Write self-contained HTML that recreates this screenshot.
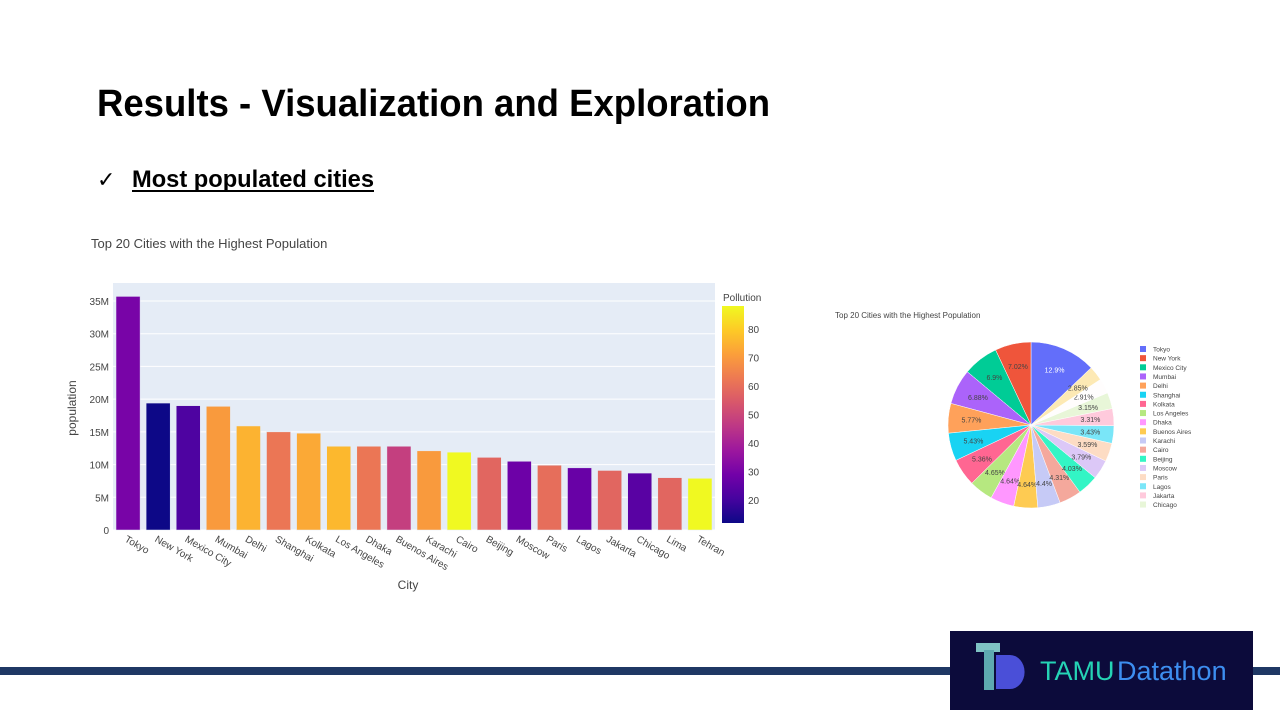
<!DOCTYPE html>
<html><head><meta charset="utf-8"><style>
html,body{margin:0;padding:0;background:#fff;width:1280px;height:720px;overflow:hidden}
svg{display:block;font-family:"Liberation Sans",sans-serif}
</style></head><body>
<svg id="s" width="1280" height="720" viewBox="0 0 1280 720">
<text x="97" y="116" font-size="38" font-weight="bold" textLength="673" lengthAdjust="spacingAndGlyphs" fill="#000">Results - Visualization and Exploration</text>
<text x="97" y="187" font-size="22" fill="#000">✓</text>
<text x="132" y="187" font-size="24" font-weight="bold" textLength="242" lengthAdjust="spacingAndGlyphs" fill="#000">Most populated cities</text>
<rect x="132" y="190" width="242" height="2" fill="#000"/>
<text x="91" y="248" font-size="13" fill="#444">Top 20 Cities with the Highest Population</text>
<rect x="113" y="283" width="602" height="247" fill="#e5ecf6"/>
<g id="grid"></g><g id="bars"></g><g id="xt"></g>
<text transform="translate(76,408) rotate(-90)" font-size="12" fill="#444" text-anchor="middle">population</text>
<text x="408" y="589" font-size="12" fill="#444" text-anchor="middle">City</text>
<text x="723" y="301" font-size="10" fill="#444">Pollution</text>
<defs><linearGradient id="pl" x1="0" y1="1" x2="0" y2="0">
<stop offset="0" stop-color="#0d0887"/><stop offset=".111" stop-color="#46039f"/><stop offset=".222" stop-color="#7201a8"/><stop offset=".333" stop-color="#9c179e"/><stop offset=".444" stop-color="#bd3786"/><stop offset=".556" stop-color="#d8576b"/><stop offset=".667" stop-color="#ed7953"/><stop offset=".778" stop-color="#fb9f3a"/><stop offset=".889" stop-color="#fdca26"/><stop offset="1" stop-color="#f0f921"/></linearGradient></defs>
<rect x="722" y="306" width="22" height="217" fill="url(#pl)"/>
<g id="cb"></g>
<text x="835" y="318" font-size="8" fill="#444">Top 20 Cities with the Highest Population</text>
<g id="pie"></g><g id="leg"></g>
<rect x="0" y="667" width="950" height="8" fill="#1f3864"/>
<rect x="1253" y="667" width="27" height="8" fill="#1f3864"/>
<g>
<rect x="950" y="631" width="303" height="79" fill="#0c0b3b"/>
<rect x="976" y="643" width="24" height="9" fill="#7fc3c4"/><rect x="984" y="650" width="10" height="40" fill="#5ea9b0"/>
<path d="M996 655 h14 a12 14 0 0 1 0 34 h-14 z" fill="#4a4fd8"/>
<text x="1040" y="680" font-size="27" fill="#25d3b5">TAMU</text>
<text x="1117" y="680" font-size="27" fill="#3d8ef0">Datathon</text>
</g>
</svg>
<script>
const cities=["Tokyo","New York","Mexico City","Mumbai","Delhi","Shanghai","Kolkata","Los Angeles","Dhaka","Buenos Aires","Karachi","Cairo","Beijing","Moscow","Paris","Lagos","Jakarta","Chicago","Lima","Tehran"];
const population=[35.7,19.4,19.0,18.9,15.9,15.0,14.8,12.8,12.8,12.8,12.1,11.9,11.1,10.5,9.9,9.5,9.1,8.7,8.0,7.9];
const pollution=[30,12,22,70,75,62,73,76,62,48,70,88,58,28,60,27,58,24,58,88];
const yTicks=[0,5,10,15,20,25,30,35];
const cbTicks=[20,30,40,50,60,70,80];
const piePct=[12.9,7.02,6.9,6.88,5.77,5.43,5.36,4.65,4.64,4.64,4.4,4.31,4.03,3.79,3.59,3.43,3.31,3.15,2.91,2.85];
const pieColors=["#636efa","#ef553b","#00cc96","#ab63fa","#ffa15a","#19d3f3","#ff6692","#b6e880","#ff97ff","#fecb52","#c6caf6","#f4a89c","#33f5c5","#dcc8f7","#fddcc4","#7ae6f8","#ffcadc","#e8f6d8","#fffdfd","#fde9b4"];
const NS="http://www.w3.org/2000/svg";
function mk(t,a,p){const e=document.createElementNS(NS,t);for(const k in a)e.setAttribute(k,a[k]);p.appendChild(e);return e;}
const y0=530,x0=113,step=602/20;
const ys=v=>y0-v*(229/35);
const xs=i=>x0+step*(i+0.5);
const cmin=12,cmax=88;
const stops=["#0d0887","#46039f","#7201a8","#9c179e","#bd3786","#d8576b","#ed7953","#fb9f3a","#fdca26","#f0f921"];
function hx(c){return [1,3,5].map(i=>parseInt(c.substr(i,2),16));}
function plasma(v){let t=Math.max(0,Math.min(1,(v-cmin)/(cmax-cmin)))*9;let i=Math.min(8,Math.floor(t)),f=t-i;const a=hx(stops[i]),b=hx(stops[i+1]);return "rgb("+a.map((x,k)=>Math.round(x+(b[k]-x)*f)).join(",")+")";}
const g=document.getElementById('grid');
yTicks.forEach(v=>{
 const l=mk('line',{x1:x0,x2:715,y1:ys(v),y2:ys(v),stroke:"#fff","stroke-width":1},g);
 
 
 const t=mk('text',{x:109,y:ys(v)+4,"font-size":10,fill:"#444","text-anchor":"end"},g);t.textContent=v===0?"0":v+"M";
 
 
});
const bg=document.getElementById('bars'),xt=document.getElementById('xt');
cities.forEach((c,i)=>{
 const bw=step*0.8;
 const r=mk('rect',{x:xs(i)-bw/2,y:ys(population[i]),width:bw,height:y0-ys(population[i]),fill:plasma(pollution[i]),stroke:"#e5ecf6","stroke-width":0.5},bg);
 
 
 const t=mk('text',{transform:`translate(${xs(i)-4},${541}) rotate(30)`,"font-size":10,fill:"#444"},xt);t.textContent=c;
 
 
});
const cb=document.getElementById('cb');
cbTicks.forEach(v=>{const y=523-(v-cmin)/(cmax-cmin)*217;
 const t=mk('text',{x:748,y:y+4,"font-size":10,fill:"#444"},cb);t.textContent=v;
 
 
});
const pg=document.getElementById('pie'),cx=1031,cy=425,R=83;
const pt=(a,r)=>[cx+r*Math.sin(a*Math.PI/180),cy-r*Math.cos(a*Math.PI/180)];
const tot=piePct.reduce((a,b)=>a+b,0);
let cum=0;
piePct.forEach((p,i)=>{
 let a1,a2;const d=p/tot*360;
 if(i===0){a1=0;a2=d;}else{a2=-cum;a1=-cum-d;}
 if(i>0)cum+=d;
 const [xA,yA]=pt(a1,R),[xB,yB]=pt(a2,R);
 const s=mk('path',{d:`M${cx},${cy}L${xA},${yA}A${R},${R} 0 ${d>180?1:0} 1 ${xB},${yB}Z`,fill:pieColors[i],stroke:"#fff","stroke-width":0.5},pg);
 
 
 const m=(a1+a2)/2,[tx,ty]=pt(m,R*0.72);
 const t=mk('text',{x:tx,y:ty+2.5,"font-size":7,fill:i===0?"#fff":"#444","text-anchor":"middle"},pg);t.textContent=p+"%";
 
 
});
const lg=document.getElementById('leg');
cities.slice(0,18).forEach((c,i)=>{const y=349+i*9.15;
 const r=mk('rect',{x:1140,y:y-3,width:6,height:6,fill:pieColors[i]},lg);
 
 
 const t=mk('text',{x:1153,y:y+2.5,"font-size":6.5,fill:"#444"},lg);t.textContent=c;
 
 
});
</script>
</body></html>
